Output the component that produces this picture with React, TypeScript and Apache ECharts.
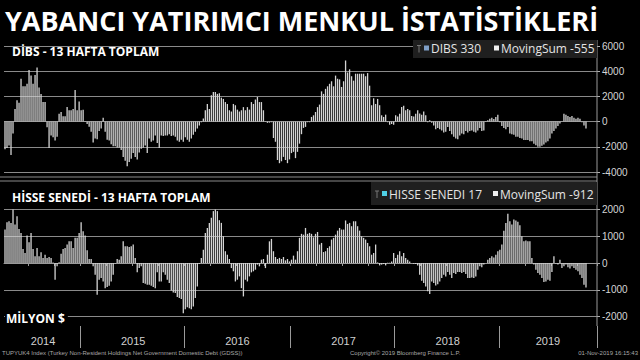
import React, { useEffect, useRef } from "react";
import * as echarts from "echarts";

// ---- data (millions USD, 13-week moving sums, weekly, first week ending 2014-04-11) ----
const START_WEEK_UTC = [2014, 3, 11]; // year, monthIndex, day
const FUTURE_PAD_WEEKS = 5;

const dibsMovingSum: number[] = [
  -2200, -2100, -1900, -2650, -950,
  1000, 1700, 1500, 3400, 2800, 2800, 3000, 4100, 3650, 3000, 3700, 4300, 2700, 2200, 1550, 1550,
  -450, -2100, -1100, -1250, -1500, -1200,
  630, 760, 420, 420, 1150, 900, 900, 1000, 2500, 900, 1600, 900, 950,
  50,
  -200, -400, -800, -1650, -1350, -1400, -750, -550, 300, -800, -1450, -1500, -1800, -1950, -1950, -2050,
  -2050, -2250, -2800, -3100, -3550, -3200, -2950, -2500, -2800, -3000, -2450, -2150, -2050, -1900, -2500,
  -1350, -1600, -1500, -1100, -1700, -2100, -1100, -1150, -1100, -1100, -1000, -1150, -1100, -1200, -1500,
  -1600, -1450, -1600, -1250, -1450, -1600, -1350, -1050, -800, -550, -300, -50,
  250, 900, 1400, 1000, 2100, 2350, 2350, 2200, 2250, 1900, 1800, 1550, 1400, 900, 800, 1400, 1300, 950,
  800, 900, 1150, 900, 1150, 950, 1550, 1400, 1750, 1950, 1550, 1550, 900, 30,
  -100, -80, -50,
  -1300, -1600, -3050, -3300, -3150, -2800, -3050, -3300, -3000, -2500, -2400, -2900, -2400, -1750, -1000,
  -500, -420, -50, -50,
  370, 500, 760, 1150, 1350, 2400, 2200, 2600, 2800, 3000, 3200, 2800, 3650, 3400, 3350, 2750, 3200,
  4850, 3900, 4150, 3600, 3250, 3800, 3800, 3800, 3800, 3800, 3600, 3850, 2850, 1300, 1850, 1400, 1800,
  1300, 500, 370, 550, -50, -250, -200, -250, 500, 400, 630, 1150, 1250, 900, 1000, 900, 450, 400, 630,
  900, 650, 550, 800, 500, -50, 100, -100, -300, -600,
  -500, -600, -700, -870, -800, -420, -750, -1000, -1200, -1350, -1400, -1100, -950, -1000, -750, -870,
  -750, -700, -800, -870, -700, -500, -750, -700, -30, 100, 230, 300, 200, 370, 550, -50, -350, -500,
  -600, -420, -950, -1000, -1050, -1200, -1200, -1300, -1350, -1470, -1470, -1470, -1550, -1550, -1750,
  -1870, -2000, -2000, -1920, -1820, -1650, -1550, -1350, -950, -750, -550, -350, -150, 30, 630, 550,
  450, 370, 450, 300, 230, 300, 230, -50, -300, -555,
];

const hisseMovingSum: number[] = [
  1250, 1525, 1560, 1500, 2000, 1440, 1750, 1275, 1125, 525,
  375, 1025, 775, 1125, 525, 250, 560, 250, 400, 190,
  310, 190, 225, 190, 20, -625, -125, 30, 350, 525,
  560, 690, 810, 810, 560, 940, 940, 1125, 1525, 1190,
  1025, 475, 150, 150, -125, -440, -1190, -625, -560, -690,
  -940, -900, -850, -690, -440, -20, 150, 125, 250, 810,
  625, 625, 600, 625, 690, 190, -350, -190, -125, -750,
  -775, -810, -810, -850, -900, -940, -350, -690, -690, -350,
  -440, -625, -750, -1025, -1100, -1125, -1275, -1310, -1350, -1875,
  -1725, -1650, -1690, -1725, -1625, -1310, -875, -30, 190, 500,
  1125, 1310, 1500, 1690, 1940, 2100, 1940, 1600, 1500, 1000,
  440, 310, 150, -190, -310, -690, -625, -500, -940, -1250,
  -625, -690, -500, -350, -310, -250, -60, -125, 125, 150,
  -190, 310, 810, 900, 440, 225, 150, 190, 150, 225,
  100, 150, 60, 125, 275, 125,
  440, 940, 1090, 1060, 1310, 1090, 1125, 1090, 960, 1090,
  1160, 690, 750, 410, 440, 560, 625, 875, 940, 1060,
  1210, 1310, 1250, 1250, 1590, 1460, 1500, 1375, 1560, 1560,
  1375, 1210, 1000, 940, 875, 750, 625, 310, 375, 690,
  20, -90, -60, -40, -90, 10, 10, 60, 375, 190,
  310, 440, 250, 375, 190, 125, 60, 0, -25, -40,
  -90, -440, -660, -750, -875, -1060, -1160, -690, -750, -840,
  -790, -690, -560, -440, -500, -340, -440, -560, -375, -410,
  -340, -340, -375, -340, -410, -560, -560, -540, -560, -500,
  -250, -125, -160, -60, 0, 125, 190, 250, 210, 310,
  440, 500, 690, 1210, 1500, 1840, 1560, 1440, 1625, 1590,
  1540, 1410, 1000, 810, 840, 810, 810, 190, -60, -250,
  -375, -440, -560, -710, -690, -625, -660, -340, 250, -20,
  -60, 125, -190, -125, -60, -160, -210, -125, -190, -250,
  -310, -440, -560, -810, -912,
];

const dibsWeeklyLast = 330;
const hisseWeeklyLast = 17;

const dibsAxis = { min: -4000, max: 6000, interval: 2000 };
const hisseAxis = { min: -2000, max: 2000, interval: 1000 };

const TITLE = "YABANCI YATIRIMCI MENKUL İSTATİSTİKLERİ";
const TOP_LABEL = "DİBS - 13 HAFTA TOPLAM";
const BOTTOM_LABEL = "HİSSE SENEDİ - 13 HAFTA TOPLAM";
const UNIT_LABEL = "MİLYON $";
const FOOT_LEFT = "TUPYUK4 Index (Turkey Non-Resident Holdings Net Government Domestic Debt (GDSS))";
const FOOT_MID = "Copyright© 2019 Bloomberg Finance L.P.";
const FOOT_RIGHT = "01-Nov-2019 16:15:43";

// ---- categories: weekly dates ----
function buildWeeks(count: number): string[] {
  const t0 = Date.UTC(START_WEEK_UTC[0], START_WEEK_UTC[1], START_WEEK_UTC[2]);
  const out: string[] = [];
  for (let i = 0; i < count; i++) {
    out.push(new Date(t0 + i * 7 * 86400000).toISOString().slice(0, 10));
  }
  return out;
}

const weeks = buildWeeks(dibsMovingSum.length + FUTURE_PAD_WEEKS);

const yearStart = new Set<number>();
const quarterStart = new Set<number>();
const yearLabelAt = new Set<number>();
(() => {
  const ranges: Record<string, [number, number]> = {};
  weeks.forEach((w, i) => {
    const y = w.slice(0, 4);
    const q = Math.floor((parseInt(w.slice(5, 7), 10) - 1) / 3);
    if (!ranges[y]) ranges[y] = [i, i];
    ranges[y][1] = i;
    if (i > 0) {
      const prev = weeks[i - 1];
      if (prev.slice(0, 4) !== y) yearStart.add(i);
      const pq = Math.floor((parseInt(prev.slice(5, 7), 10) - 1) / 3);
      if (pq !== q || prev.slice(0, 4) !== y) quarterStart.add(i);
    }
  });
  Object.keys(ranges).forEach((y) => {
    const [a, b] = ranges[y];
    yearLabelAt.add(Math.round((a + b) / 2));
  });
})();

const SANS = "'Open Sans', 'Noto Sans', sans-serif";
const AX = "'Liberation Sans', Arial, sans-serif";

export default function App() {
  const ref = useRef<HTMLDivElement>(null);

  useEffect(() => {
    if (!ref.current) return;
    const chart = echarts.init(ref.current, undefined, { renderer: "svg" });
    const grid = "#8a8a8a";
    const lastDibs = dibsMovingSum[dibsMovingSum.length - 1];
    const lastHisse = hisseMovingSum[hisseMovingSum.length - 1];

    const yCommon = (g: number, ax: { min: number; max: number; interval: number }) => ({
      type: "value",
      gridIndex: g,
      position: "right",
      min: ax.min,
      max: ax.max,
      interval: ax.interval,
      axisLine: { show: false },
      axisTick: { show: true, length: 3, lineStyle: { color: "#b0b0b0" } },
      axisLabel: {
        color: "#d6d6d6",
        fontSize: 10,
        fontFamily: AX,
        margin: 5,
        formatter: (v: number) => String(v),
      },
      splitLine: { show: true, lineStyle: { color: grid, width: 1.2 } },
    });

    const legendBox = (
      x: number, y: number, w: number, h: number,
      sqColor: string, label: string, sumLabel: string,
      sq1x: number, sq2x: number, ty: number
    ) => [
      { type: "rect", z: 100, shape: { x, y, width: w, height: h }, style: { fill: "#1f1f1f" } },
      { type: "line", z: 101, shape: { x1: sq1x - 5, y1: ty - 3, x2: sq1x - 5, y2: ty + 4 }, style: { stroke: "#777", lineWidth: 1 } },
      { type: "line", z: 101, shape: { x1: sq1x - 7, y1: ty - 3, x2: sq1x - 3, y2: ty - 3 }, style: { stroke: "#777", lineWidth: 1 } },
      { type: "rect", z: 101, shape: { x: sq1x, y: ty - 3, width: 5, height: 5 }, style: { fill: sqColor } },
      { type: "text", z: 101, x: sq1x + 7, y: ty, style: { text: label, fill: "#e4e4e4", font: `12px ${SANS}`, textVerticalAlign: "middle" } },
      { type: "rect", z: 101, shape: { x: sq2x, y: ty - 3, width: 5, height: 5 }, style: { fill: "#f0f0f0" } },
      { type: "text", z: 101, x: sq2x + 7, y: ty, style: { text: sumLabel, fill: "#e4e4e4", font: `12px ${SANS}`, textVerticalAlign: "middle" } },
    ];

    const option: any = {
      animation: false,
      backgroundColor: "#000",
      grid: [
        { left: 4, right: 43, top: 46, height: 126 },
        { left: 4, right: 43, top: 209.5, height: 107 },
      ],
      xAxis: [
        { type: "category", gridIndex: 0, data: weeks, show: false },
        {
          type: "category",
          gridIndex: 1,
          data: weeks,
          position: "bottom",
          offset: 9.5,
          axisLine: { show: true, lineStyle: { color: "#9a9a9a", width: 1 } },
          axisTick: { show: true, interval: (i: number) => quarterStart.has(i), length: 3, lineStyle: { color: "#9a9a9a" } },
          axisLabel: {
            show: true,
            interval: (i: number) => yearLabelAt.has(i),
            formatter: (v: string) => v.slice(0, 4),
            color: "#d0d0d0",
            fontSize: 11,
            fontFamily: AX,
            margin: 9,
          },
          splitLine: { show: false },
        },
        {
          type: "category",
          gridIndex: 1,
          data: weeks,
          position: "bottom",
          offset: 9.5,
          axisLine: { show: false },
          axisTick: { show: true, interval: (i: number) => yearStart.has(i), length: 22, lineStyle: { color: "#9a9a9a" } },
          axisLabel: { show: false },
          splitLine: { show: false },
        },
      ],
      yAxis: [yCommon(0, dibsAxis), yCommon(1, hisseAxis)],
      series: [
        {
          name: "MovingSum DIBS",
          type: "bar",
          xAxisIndex: 0,
          yAxisIndex: 0,
          data: dibsMovingSum,
          barWidth: 1.3,
          itemStyle: { color: "#d4d4d4" },
          silent: true,
        },
        {
          name: "MovingSum HISSE",
          type: "bar",
          xAxisIndex: 1,
          yAxisIndex: 1,
          data: hisseMovingSum,
          barWidth: 1.3,
          itemStyle: { color: "#d4d4d4" },
          silent: true,
        },
      ],
      graphic: [
        { type: "text", x: 5, y: 20, style: { text: TITLE, fill: "#ffffff", font: `bold 27px ${SANS}`, textVerticalAlign: "middle" } },
        { type: "text", z: 50, x: 12, y: 51, style: { text: TOP_LABEL, fill: "#ffffff", font: `bold 12px ${SANS}`, textVerticalAlign: "middle" } },
        { type: "text", z: 50, x: 12, y: 197, style: { text: BOTTOM_LABEL, fill: "#ffffff", font: `bold 12px ${SANS}`, textVerticalAlign: "middle" } },
        { type: "text", z: 50, x: 5, y: 318, style: { text: UNIT_LABEL, fill: "#ffffff", font: `bold 12px ${SANS}`, textVerticalAlign: "middle", backgroundColor: "#000", padding: [0, 3, 0, 1] } },
        { type: "line", z: 50, shape: { x1: 0, y1: 177, x2: 597, y2: 177 }, style: { stroke: "#8a8a8a", lineWidth: 1.2 } },
        { type: "line", z: 50, shape: { x1: 0, y1: 181, x2: 597, y2: 181 }, style: { stroke: "#8a8a8a", lineWidth: 1.2 } },
        { type: "line", z: 50, shape: { x1: 597, y1: 40, x2: 597, y2: 326 }, style: { stroke: "#9a9a9a", lineWidth: 1 } },
        ...legendBox(413, 40, 184, 18, "#7f9fc7", `DIBS ${dibsWeeklyLast}`, `MovingSum ${lastDibs}`, 424, 494, 48.5),
        ...legendBox(371, 182, 226, 23, "#4fd0e6", `HISSE SENEDI ${hisseWeeklyLast}`, `MovingSum ${lastHisse}`, 382, 493, 194),
        { type: "text", x: 2, y: 353, style: { text: FOOT_LEFT, fill: "#a8a8a8", font: `6px ${AX}`, textVerticalAlign: "middle" } },
        { type: "text", x: 350, y: 353, style: { text: FOOT_MID, fill: "#a8a8a8", font: `6px ${AX}`, textVerticalAlign: "middle" } },
        { type: "text", x: 638, y: 353, style: { text: FOOT_RIGHT, fill: "#a8a8a8", font: `6px ${AX}`, textVerticalAlign: "middle", textAlign: "right" } },
      ],
    };

    chart.setOption(option);
    return () => chart.dispose();
  }, []);

  return (
    <div
      ref={ref}
      style={{ position: "fixed", left: 0, top: 0, width: 640, height: 360, background: "#000" }}
    />
  );
}
